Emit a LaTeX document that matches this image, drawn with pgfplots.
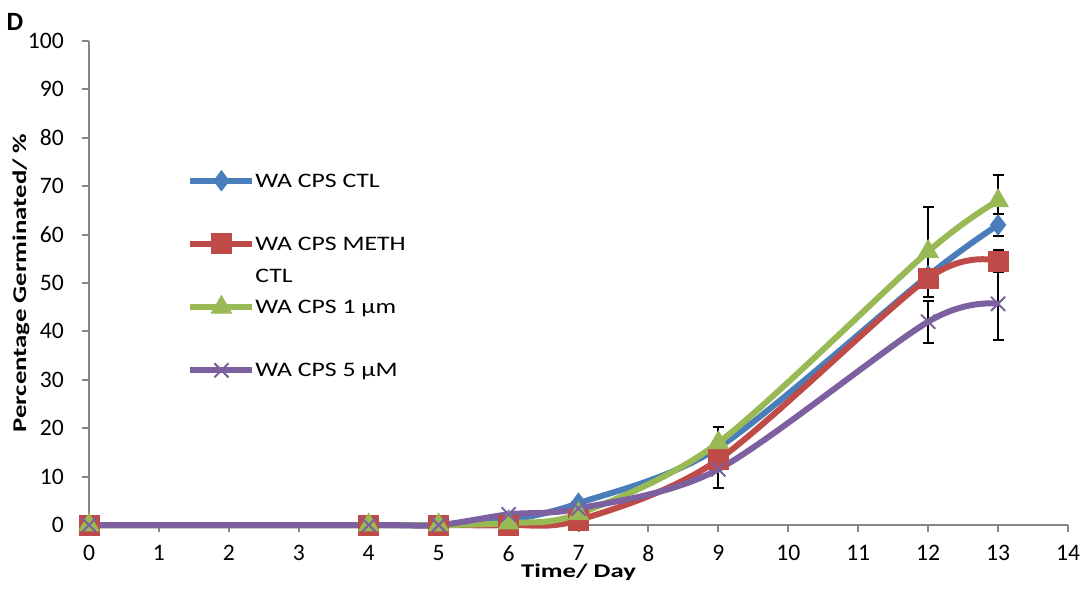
\documentclass[border=0pt]{standalone}
\usepackage{pgfplots}
\pgfplotsset{compat=1.18}
\usepackage{fontspec}
\setmainfont{Carlito}
\newfontfamily\labfont[FakeStretch=1.38]{Carlito}
\newfontfamily\legfont[FakeStretch=1.25]{Carlito}
\definecolor{cblue}{HTML}{4A7EBB}
\definecolor{cred}{HTML}{BE4B48}
\definecolor{cgreen}{HTML}{98B954}
\definecolor{cpurple}{HTML}{7D60A0}
\definecolor{axgray}{HTML}{868686}
\newcommand\lentry[2]{\vtop{\baselineskip=16pt\hbox{\strut #1}\hbox{\strut #2}}}
\begin{document}
\fontsize{11.8}{14.2}\selectfont
\begin{tikzpicture}
\begin{axis}[
  scale only axis, width=489.5pt, height=242pt,
  xmin=0, xmax=14, ymin=0, ymax=100,
  xtick={0,...,14}, ytick={0,10,...,100},
  axis x line*=bottom, axis y line*=left,
  axis line style={draw=axgray, line width=1pt, -},
  tick align=outside, major tick length=3.5pt,
  every tick/.style={draw=axgray, line width=1pt},
  minor tick num=0,
  /pgf/number format/assume math mode=true,
  tick label style={font=\fontsize{11.8}{14.2}\selectfont, black},
  yticklabel style={xshift=-5pt},
  xticklabel style={yshift=-2.5pt},
  xlabel={Time/ Day},
  ylabel={Percentage Germinated/ \%},
  xlabel style={at={(axis description cs:0.5,0)}, anchor=base, yshift=-26.25pt, font=\labfont\bfseries\fontsize{9.7}{11.6}\selectfont},
  ylabel style={at={(axis description cs:0,0.5)}, anchor=center, yshift=34pt, font=\labfont\bfseries\fontsize{9.7}{11.6}\selectfont},
  legend style={draw=none, fill=none, at={(axis cs:1.402,73.43)}, anchor=north west,
    inner sep=0pt, row sep=21pt, cells={anchor=base west},
    nodes={inner sep=0pt, font=\legfont\fontsize{10.3}{12.4}\selectfont},
    /tikz/every even column/.style={column sep=0pt}},
  legend image code/.code={\draw[mark repeat=2, mark phase=2, yshift=3.3pt, #1] plot coordinates {(0pt,0pt) (15.5pt,0pt) (31pt,0pt)};},
  every axis plot/.append style={line width=3pt, smooth},
  clip=false,
]
\coordinate (O) at (rel axis cs:0,0);
% error bars (drawn first, behind series)
\addplot[draw=none, forget plot, line width=1pt, mark=none,
  error bars/.cd, y dir=both, y explicit,
  error bar style={black, line width=1pt},
  error mark options={black, rotate=90, mark size=2.75pt, line width=1pt}]
  coordinates {
  (9,13.5) += (0,6.7) -= (0,5.9)
  (12,56.5) +- (0,9.3)
  (12,42) +- (0,4.3)
  (13,67) +- (0,5.4)
  (13,62) +- (0,2.3)
  (13,54.5) +- (0,2.3)
  (13,45.7) +- (0,7.5)
  };
\addplot[cblue, mark=diamond*, mark size=5pt, mark options={line width=0.5pt}]
  coordinates {(0,0) (4,0) (5,0) (6,1) (7,4.5) (9,16) (12,51.5) (13,62)};
\addlegendentry{\lentry{WA CPS CTL}{}}
\addplot[cred, mark=square*, mark size=5pt, mark options={line width=0.5pt}]
  coordinates {(0,0) (4,0) (5,0) (6,0) (7,1) (9,13.5) (12,51) (13,54.5)};
\addlegendentry{\lentry{WA CPS METH}{CTL}}
\addplot[cgreen, mark=triangle*, mark size=5.8pt, mark options={line width=0.5pt}]
  coordinates {(0,0) (4,0) (5,0) (6,0.4) (7,2.3) (9,17) (12,56.5) (13,67)};
\addlegendentry{\lentry{WA CPS 1 µm}{}}
\addplot[cpurple, mark=x, mark size=5pt, mark options={line width=1pt}]
  coordinates {(0,0) (4,0) (5,0) (6,2.2) (7,3.4) (9,11.5) (12,42) (13,45.7)};
\addlegendentry{\lentry{WA CPS 5 µM}{}}
\node[font=\fontsize{13.2}{15}\selectfont\bfseries] at ([xshift=-37pt,yshift=9.5pt]rel axis cs:0,1) {D};
\end{axis}
\pgfresetboundingbox
\path (O) ++(-44.5pt,-34pt) rectangle ++(545pt,296.5pt);
\end{tikzpicture}
\end{document}
